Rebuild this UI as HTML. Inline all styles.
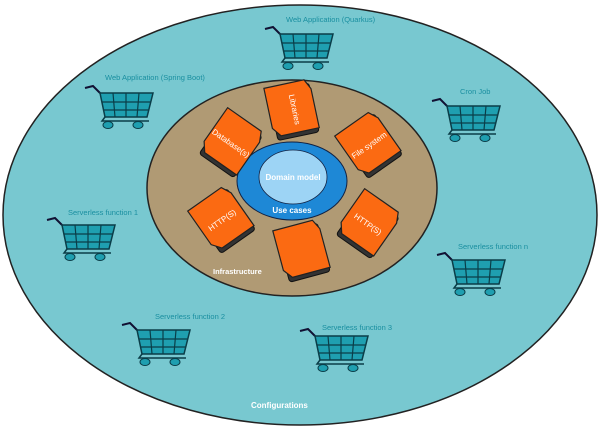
<!DOCTYPE html>
<html><head><style>
html,body{margin:0;padding:0;background:#fff;width:600px;height:429px;overflow:hidden}
svg{display:block}
text{font-family:"Comic Sans MS","Liberation Sans",sans-serif}
</style></head><body>
<svg width="600" height="429" viewBox="0 0 600 429">
<defs>
<g id="cart">
<path d="M0,5 L8,3 L15,10" fill="none" stroke="#113" stroke-width="2"/>
<polygon points="15,10 68,10 62,34 20,34" fill="#1f9fb0" stroke="#0a3d48" stroke-width="1.5"/>
<path d="M17,19 L66,19 M19,27 L64,27 M28,10 L30,34 M41,10 L41,34 M54,10 L52,34" stroke="#0a3d48" stroke-width="1.2"/>
<path d="M20,34 L17,38 L64,38" fill="none" stroke="#0a3d48" stroke-width="1.5"/>
<ellipse cx="23" cy="42" rx="5" ry="3.5" fill="#1f9fb0" stroke="#0a3d48"/>
<ellipse cx="53" cy="42" rx="5" ry="3.5" fill="#1f9fb0" stroke="#0a3d48"/>
</g>
<g id="chip">
<rect x="-20" y="-23" width="42" height="50" rx="3" fill="#333" stroke="#111"/>
<path d="M-23,-27 L18,-27 L23,-17 L23,23 L-16,23 L-23,14 Z" fill="#fb6a12" stroke="#222" stroke-width="1.2"/>
</g>
</defs>
<ellipse cx="300" cy="215" rx="297" ry="210" fill="#78c8d0" stroke="#222" stroke-width="1.5"/>
<ellipse cx="292" cy="188" rx="145" ry="108" fill="#b09a74" stroke="#222" stroke-width="1.5"/>
<ellipse cx="292" cy="181" rx="55" ry="39" fill="#1e88d6" stroke="#124" stroke-width="1"/>
<ellipse cx="293" cy="177" rx="34" ry="27" fill="#9dd4f5" stroke="#124" stroke-width="0.8"/>
<text x="293" y="180" font-size="8" font-weight="bold" fill="#fff" text-anchor="middle">Domain model</text>
<text x="292" y="213" font-size="8" font-weight="bold" fill="#fff" text-anchor="middle">Use cases</text>
<text x="213" y="274" font-size="7.5" font-weight="bold" fill="#fff">Infrastructure</text>

<g transform="translate(292,110) rotate(-12)"><use href="#chip"/><text x="0" y="0" font-size="8" fill="#fff" text-anchor="middle" transform="rotate(90)">Libraries</text></g>
<g transform="translate(231,143) rotate(35)"><use href="#chip"/><text x="0" y="3" font-size="8" fill="#fff" text-anchor="middle">Database(s)</text></g>
<g transform="translate(369,145) rotate(-35)"><use href="#chip"/><text x="0" y="3" font-size="8" fill="#fff" text-anchor="middle">File system</text></g>
<g transform="translate(222,220) rotate(-35)"><use href="#chip"/><text x="0" y="3" font-size="8" fill="#fff" text-anchor="middle">HTTP(S)</text></g>
<g transform="translate(368,224) rotate(35)"><use href="#chip"/><text x="0" y="3" font-size="8" fill="#fff" text-anchor="middle">HTTP(S)</text></g>
<g transform="translate(302,251) rotate(-15)"><use href="#chip"/></g>

<g fill="#1a8fa0" font-size="7.5">
<text x="286" y="22">Web Application (Quarkus)</text>
<text x="105" y="80">Web Application (Spring Boot)</text>
<text x="460" y="94">Cron Job</text>
<text x="68" y="215">Serverless function 1</text>
<text x="458" y="249">Serverless function n</text>
<text x="155" y="319">Serverless function 2</text>
<text x="322" y="330">Serverless function 3</text>
</g>
<text x="251" y="408" font-size="8" font-weight="bold" fill="#fff">Configurations</text>

<use href="#cart" x="265" y="24"/>
<use href="#cart" x="85" y="83"/>
<use href="#cart" x="432" y="96"/>
<use href="#cart" x="47" y="215"/>
<use href="#cart" x="437" y="250"/>
<use href="#cart" x="122" y="320"/>
<use href="#cart" x="300" y="326"/>
</svg>
</body></html>
